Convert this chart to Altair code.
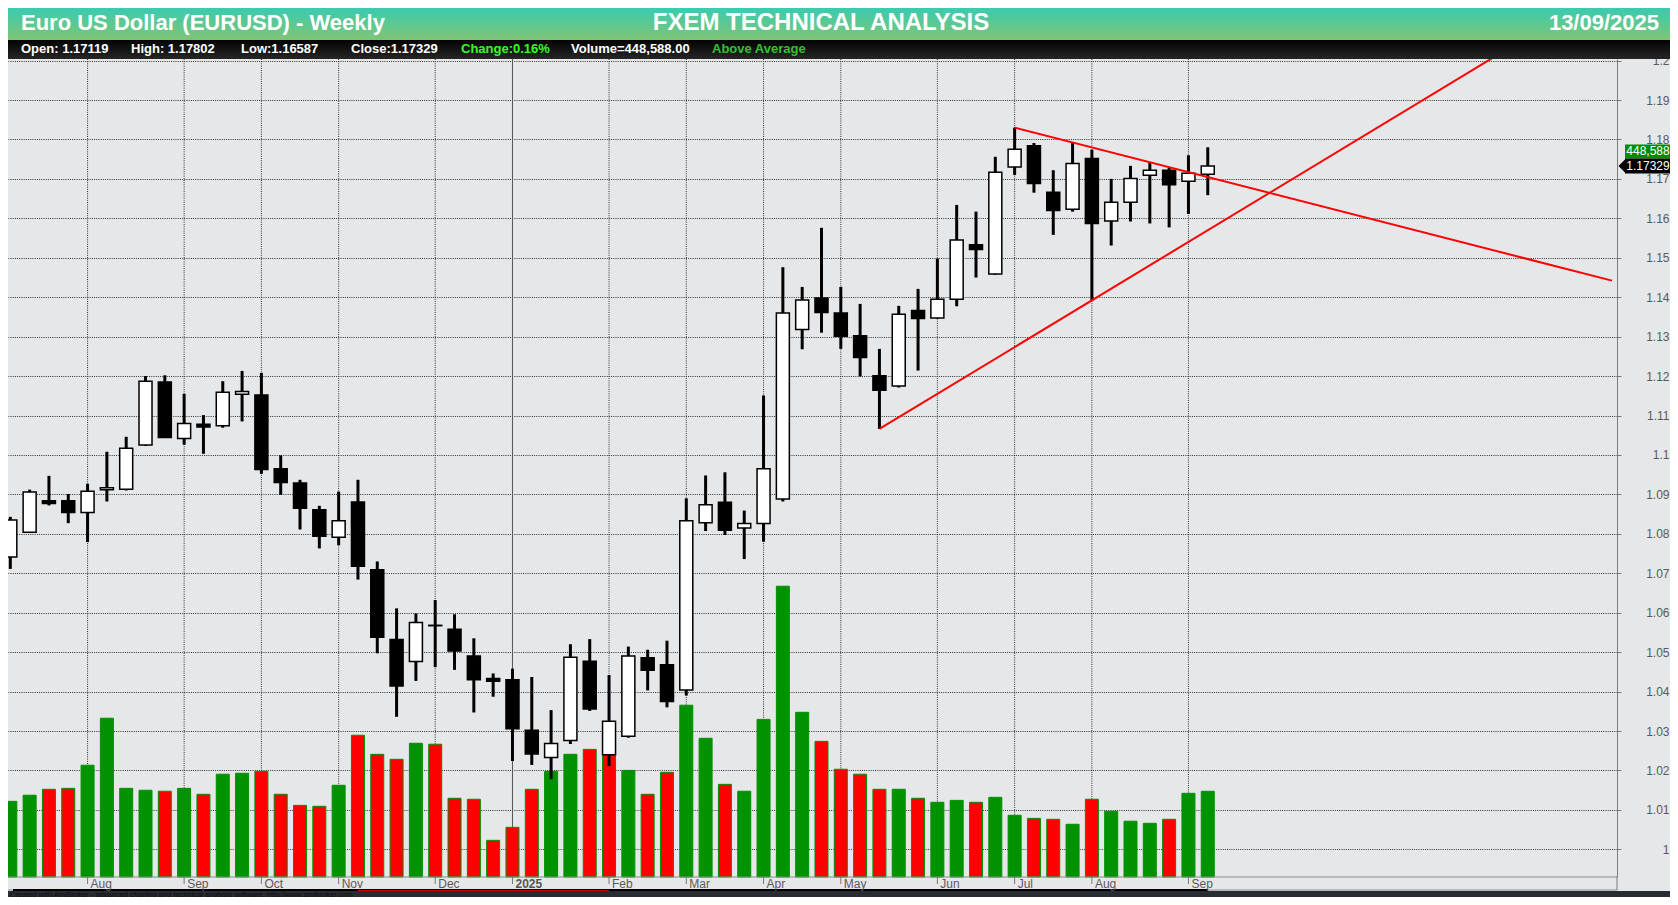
import altair as alt
import pandas as pd

# ---------------- data ----------------
opens = [1.0741, 1.0804, 1.0884, 1.0884, 1.0854, 1.0912, 1.0913, 1.1025, 1.1185, 1.1042,
         1.1078, 1.1074, 1.1154, 1.1152, 1.0965, 1.0929, 1.0861, 1.0791, 1.0881, 1.0709,
         1.0532, 1.0476, 1.0568, 1.0558, 1.0490, 1.0433, 1.0430, 1.0302, 1.0233, 1.0276,
         1.0477, 1.0240, 1.0287, 1.0486, 1.0468, 1.0404, 1.0828, 1.0880, 1.0815, 1.0826,
         1.0888, 1.1318, 1.1398, 1.1360, 1.1302, 1.1201, 1.1175, 1.1366, 1.1347, 1.1395,
         1.1533, 1.1459, 1.1730, 1.1784, 1.1666, 1.1623, 1.1752, 1.1593, 1.1641, 1.1709,
         1.1722, 1.1694, 1.17119]
highs = [1.0843, 1.0912, 1.0947, 1.0901, 1.0927, 1.1008, 1.1046, 1.1200, 1.1202, 1.1155,
         1.1101, 1.1187, 1.1213, 1.1208, 1.0999, 1.0937, 1.0871, 1.0907, 1.0937, 1.0730,
         1.0611, 1.0598, 1.0632, 1.0596, 1.0535, 1.0446, 1.0458, 1.0437, 1.0353, 1.0520,
         1.0533, 1.0442, 1.0514, 1.0506, 1.0529, 1.0890, 1.0948, 1.0956, 1.0859, 1.1151,
         1.1476, 1.1426, 1.1576, 1.1426, 1.1383, 1.1269, 1.1378, 1.1421, 1.1498, 1.1634,
         1.1617, 1.1756, 1.1830, 1.1791, 1.1722, 1.1792, 1.1774, 1.1700, 1.1733, 1.1742,
         1.1729, 1.1760, 1.17802]
lows = [1.0711, 1.0802, 1.0872, 1.0827, 1.0779, 1.0882, 1.0910, 1.1023, 1.1043, 1.1026,
        1.1003, 1.1069, 1.1085, 1.0952, 1.0899, 1.0811, 1.0763, 1.0771, 1.0684, 1.0497,
        1.0336, 1.0427, 1.0462, 1.0455, 1.0347, 1.0387, 1.0224, 1.0214, 1.0178, 1.0267,
        1.0351, 1.0211, 1.0283, 1.0403, 1.0360, 1.0390, 1.0807, 1.0797, 1.0736, 1.0780,
        1.0882, 1.1268, 1.1310, 1.1269, 1.1199, 1.1066, 1.1171, 1.1214, 1.1345, 1.1377,
        1.1450, 1.1457, 1.1710, 1.1665, 1.1558, 1.1617, 1.1391, 1.1531, 1.1592, 1.1587,
        1.1577, 1.1611, 1.16587]
closes = [1.0835, 1.0906, 1.0877, 1.0854, 1.0908, 1.0917, 1.1017, 1.1187, 1.1044, 1.1080,
          1.1071, 1.1159, 1.1161, 1.0963, 1.0930, 1.0865, 1.0794, 1.0833, 1.0718, 1.0538,
          1.0414, 1.0575, 1.0567, 1.0503, 1.0430, 1.0426, 1.0306, 1.0242, 1.0268, 1.0487,
          1.0356, 1.0325, 1.0490, 1.0454, 1.0375, 1.0833, 1.0874, 1.0809, 1.0826, 1.0965,
          1.1360, 1.1393, 1.1361, 1.1301, 1.1247, 1.1164, 1.1357, 1.1346, 1.1395, 1.1545,
          1.1521, 1.1717, 1.1775, 1.1688, 1.1620, 1.1739, 1.1587, 1.1641, 1.1701, 1.1722,
          1.1685, 1.1714, 1.17329]
volumes = [396000, 428000, 459000, 464000, 585000, 831000, 464000, 454000, 449000, 464000,
           433000, 538000, 543000, 553000, 433000, 375000, 370000, 480000, 742000, 642000,
           616000, 700000, 695000, 412000, 407000, 192000, 260000, 459000, 553000, 642000,
           668000, 690000, 558000, 433000, 548000, 899000, 726000, 485000, 449000, 825000,
           1522000, 862000, 710000, 564000, 538000, 459000, 459000, 412000, 391000, 401000,
           391000, 417000, 323000, 307000, 302000, 276000, 407000, 344000, 292000, 281000,
           302000, 438000, 448588]

month_index = [4, 9, 13, 17, 22, 26, 31, 35, 39, 43, 48, 52, 56, 61]
month_names = ["Aug", "Sep", "Oct", "Nov", "Dec", "2025", "Feb", "Mar", "Apr", "May",
               "Jun", "Jul", "Aug", "Sep"]

price_ticks = [1.00, 1.01, 1.02, 1.03, 1.04, 1.05, 1.06, 1.07, 1.08, 1.09, 1.10,
               1.11, 1.12, 1.13, 1.14, 1.15, 1.16, 1.17, 1.18, 1.19, 1.20]

trend_upper_x = [52, 82.93]
trend_upper_y = [1.1830, 1.1442]
trend_lower_x = [45, 82.93]
trend_lower_y = [1.1066, 1.2190]

scroll_x = [0.139, 62]
scroll_red_x = [18, 31]

title_left = "Euro US Dollar (EURUSD) - Weekly"
title_mid = "FXEM TECHNICAL ANALYSIS"
title_date = "13/09/2025"
info_texts = ["Open: 1.17119", "High: 1.17802", "Low:1.16587", "Close:1.17329",
              "Change:0.16%", "Volume=448,588.00", "Above Average"]
footer_text = ("Created with AmiBroker - advanced charting and technical analysis "
               "software. http://www.amibroker.com")

# ---------------- layout ----------------
W, H = 1609, 818
TOTAL_W, TOTAL_H = 1662, 889
PAD_TOP = 51
X_DOM = [0.139, 82.93]
Y_DOM = [0.99298, 1.2004]
V_DOM = [0, 4281400]
FONT = "Liberation Sans"
BG = "#e6e7e9"
GRID = "#303030"

info_x = [13, 123, 233, 343, 453, 563, 704]
info_colors = ["white", "white", "white", "white", "#33ff22", "white", "#33c133"]

xsc = alt.Scale(domain=X_DOM, nice=False, zero=False)
ysc = alt.Scale(domain=Y_DOM, nice=False, zero=False)
vsc = alt.Scale(domain=V_DOM, nice=False, zero=True)

df = pd.DataFrame({"i": list(range(len(opens))), "o": opens, "h": highs,
                   "l": lows, "c": closes, "v": volumes})
prev = df["c"].shift(1)
df["vup"] = ((df["c"] >= prev) | prev.isna()).astype(int)

mdf = pd.DataFrame({"i": month_index, "name": month_names,
                    "year": [1 if n.isdigit() else 0 for n in month_names]})
tdf = pd.DataFrame({"i": trend_upper_x + trend_lower_x,
                    "p": trend_upper_y + trend_lower_y,
                    "line": ["upper"] * 2 + ["lower"] * 2})
last = df.iloc[[-1]].reset_index(drop=True)
one = pd.DataFrame({"k": [0]})

X = alt.X("i:Q", scale=xsc, axis=None)

price_axis = alt.Axis(
    orient="right", values=price_ticks,
    labelExpr="toString(round(datum.value*100)/100)",
    grid=True, gridColor=GRID, gridDash=[1, 1.2], gridWidth=1, gridOpacity=1,
    domain=True, domainColor="#7a7a7a", domainWidth=1,
    ticks=True, tickColor="#7a7a7a", tickSize=4,
    labelColor="#5a5a5a", labelFont=FONT, labelFontSize=12,
    labelAlign="right", labelBaseline="middle", labelPadding=48,
    labelOverlap=False, labelFlush=False, labelBound=False, title=None)


def deco_rect(x, x2, y, y2, **kw):
    return alt.Chart(one).mark_rect(**kw).encode(
        x=alt.value(x), x2=alt.value(x2), y=alt.value(y), y2=alt.value(y2))


def deco_text(x, y, text, **kw):
    return alt.Chart(one).mark_text(font=FONT, **kw).encode(
        x=alt.value(x), y=alt.value(y), text=alt.value(text))


# grid for months
vgrid = alt.Chart(mdf).transform_filter("datum.year == 0").mark_rule(
    color=GRID, strokeDash=[1, 1.2], strokeWidth=1).encode(
    x=X, y=alt.value(0), y2=alt.value(H))
yearline = alt.Chart(mdf).transform_filter("datum.year == 1").mark_rule(
    color="#555555", strokeWidth=1).encode(x=X, y=alt.value(0), y2=alt.value(H))

# volume
vol = alt.Chart(df).mark_bar(width=13, stroke="#009200", strokeWidth=1).encode(
    x=X, y=alt.Y("v:Q", scale=vsc, axis=None),
    fill=alt.condition("datum.vup == 1", alt.value("#009200"), alt.value("#ff0000")))

# candles
wick = alt.Chart(df).mark_rule(color="black", strokeWidth=3).encode(
    x=X, y=alt.Y("l:Q", scale=ysc, axis=price_axis), y2="h:Q")
body = alt.Chart(df).mark_bar(width=13, stroke="black", strokeWidth=1.5).encode(
    x=X, y=alt.Y("o:Q", scale=ysc, axis=None), y2="c:Q",
    fill=alt.condition("datum.c >= datum.o", alt.value("white"), alt.value("black")))

trend = alt.Chart(tdf).mark_line(color="#ff0000", strokeWidth=2, clip=True).encode(
    x=X, y=alt.Y("p:Q", scale=ysc, axis=None), detail="line:N")

# right-side value tags
tag_black = alt.Chart(last).mark_rect(color="black", yOffset=-7.5, y2Offset=7.5).encode(
    x=alt.value(1617), x2=alt.value(TOTAL_W),
    y=alt.Y("c:Q", scale=ysc, axis=None), y2="c:Q")
tag_arrow = alt.Chart(last).mark_point(
    shape="M -1 0 L 0 -1 L 0 1 Z", filled=True, color="black", opacity=1, size=225).encode(
    x=alt.value(1618), y=alt.Y("c:Q", scale=ysc, axis=None))
tag_green = alt.Chart(last).mark_rect(color="#008c00", yOffset=-21.5, y2Offset=-7.5).encode(
    x=alt.value(1617), x2=alt.value(TOTAL_W),
    y=alt.Y("c:Q", scale=ysc, axis=None), y2="c:Q")
tag_black_txt = alt.Chart(last).mark_text(
    color="white", font=FONT, fontSize=12, align="center", baseline="middle").encode(
    x=alt.value(1640), y=alt.Y("c:Q", scale=ysc, axis=None),
    text=alt.Text("c:Q", format=".5f"))
tag_green_txt = alt.Chart(last).mark_text(
    color="white", font=FONT, fontSize=12, align="center", baseline="middle", dy=-14.5).encode(
    x=alt.value(1640), y=alt.Y("c:Q", scale=ysc, axis=None),
    text=alt.Text("v:Q", format=","))

# header / info bar
header = deco_rect(0, TOTAL_W, -PAD_TOP, -19, fill=alt.Gradient(
    gradient="linear", x1=0, x2=0, y1=0, y2=1,
    stops=[alt.GradientStop(color="#3acbb0", offset=0),
           alt.GradientStop(color="#80c574", offset=1)]))
infobar = deco_rect(0, TOTAL_W, -19, 0, fill=alt.Gradient(
    gradient="linear", x1=0, x2=0, y1=0, y2=1,
    stops=[alt.GradientStop(color="#030303", offset=0),
           alt.GradientStop(color="#262626", offset=1)]))
t_left = deco_text(13, -29, title_left, align="left", baseline="alphabetic",
                   fontSize=22, fontWeight="bold", color="white")
t_mid = deco_text(813, -29, title_mid, align="center", baseline="alphabetic",
                  fontSize=24, fontWeight="bold", color="white")
t_date = deco_text(1651, -29, title_date, align="right", baseline="alphabetic",
                   fontSize=22, fontWeight="bold", color="white")
info_layers = [deco_text(x, -6.5, t, align="left", baseline="alphabetic", fontSize=13,
                         fontWeight="bold", color=col)
               for x, t, col in zip(info_x, info_texts, info_colors)]

# bottom axis strip
SB = H + 13  # strip bottom
strip_top = alt.Chart(one).mark_rule(color="#8a8a8a", strokeWidth=1).encode(
    x=alt.value(0), x2=alt.value(W), y=alt.value(H))
strip_right = alt.Chart(one).mark_rule(color="#7a7a7a", strokeWidth=1).encode(
    x=alt.value(W), y=alt.value(H), y2=alt.value(SB))
strip_bottom_gray = alt.Chart(one).mark_rule(color="#8a8a8a", strokeWidth=1).encode(
    x=alt.value(0), x2=alt.value(W), y=alt.value(SB))
sdf = pd.DataFrame({"a": [scroll_x[0]], "b": [scroll_x[1]]})
rdf = pd.DataFrame({"a": [scroll_red_x[0]], "b": [scroll_red_x[1]]})
scroll_black = alt.Chart(sdf).mark_rule(color="black", strokeWidth=2).encode(
    x=alt.X("a:Q", scale=xsc, axis=None), x2="b:Q", y=alt.value(SB))
scroll_red = alt.Chart(rdf).mark_rule(color="#d00000", strokeWidth=1).encode(
    x=alt.X("a:Q", scale=xsc, axis=None), x2="b:Q", y=alt.value(SB + 0.5))
mticks = alt.Chart(mdf).mark_rule(color="#777777", strokeWidth=1).encode(
    x=X, y=alt.value(H), y2=alt.value(H + 7))
mlabels = alt.Chart(mdf).transform_filter("datum.year == 0").mark_text(
    font=FONT, fontSize=12, color="#5a5a5a", align="left", baseline="middle", dx=3).encode(
    x=X, y=alt.value(H + 7), text="name:N")
ylabels = alt.Chart(mdf).transform_filter("datum.year == 1").mark_text(
    font=FONT, fontSize=12, fontWeight="bold", color="#555555", align="left",
    baseline="middle", dx=3).encode(x=X, y=alt.value(H + 7), text="name:N")

footer = deco_rect(0, TOTAL_W, SB + 1, TOTAL_H - PAD_TOP, color="#272d33")
footer_txt = deco_text(2, SB + 4.5, footer_text, align="left", baseline="middle",
                       fontSize=7.5, color="#0c0c0c")

chart = alt.layer(
    vgrid, yearline, vol, wick, body, trend,
    tag_green, tag_black, tag_arrow, tag_black_txt, tag_green_txt,
    header, infobar, t_left, t_mid, t_date, *info_layers,
    strip_top, strip_right, strip_bottom_gray, scroll_black, scroll_red,
    mticks, mlabels, ylabels, footer, footer_txt,
).resolve_scale(y="independent").properties(
    width=W, height=H, background=BG,
    padding={"left": 0, "top": PAD_TOP, "right": TOTAL_W - W, "bottom": TOTAL_H - PAD_TOP - H},
    autosize=alt.AutoSizeParams(type="none"),
).configure_view(stroke=None, fill=BG)

chart.save("out.html", embed_options={"renderer": "svg", "actions": False})
